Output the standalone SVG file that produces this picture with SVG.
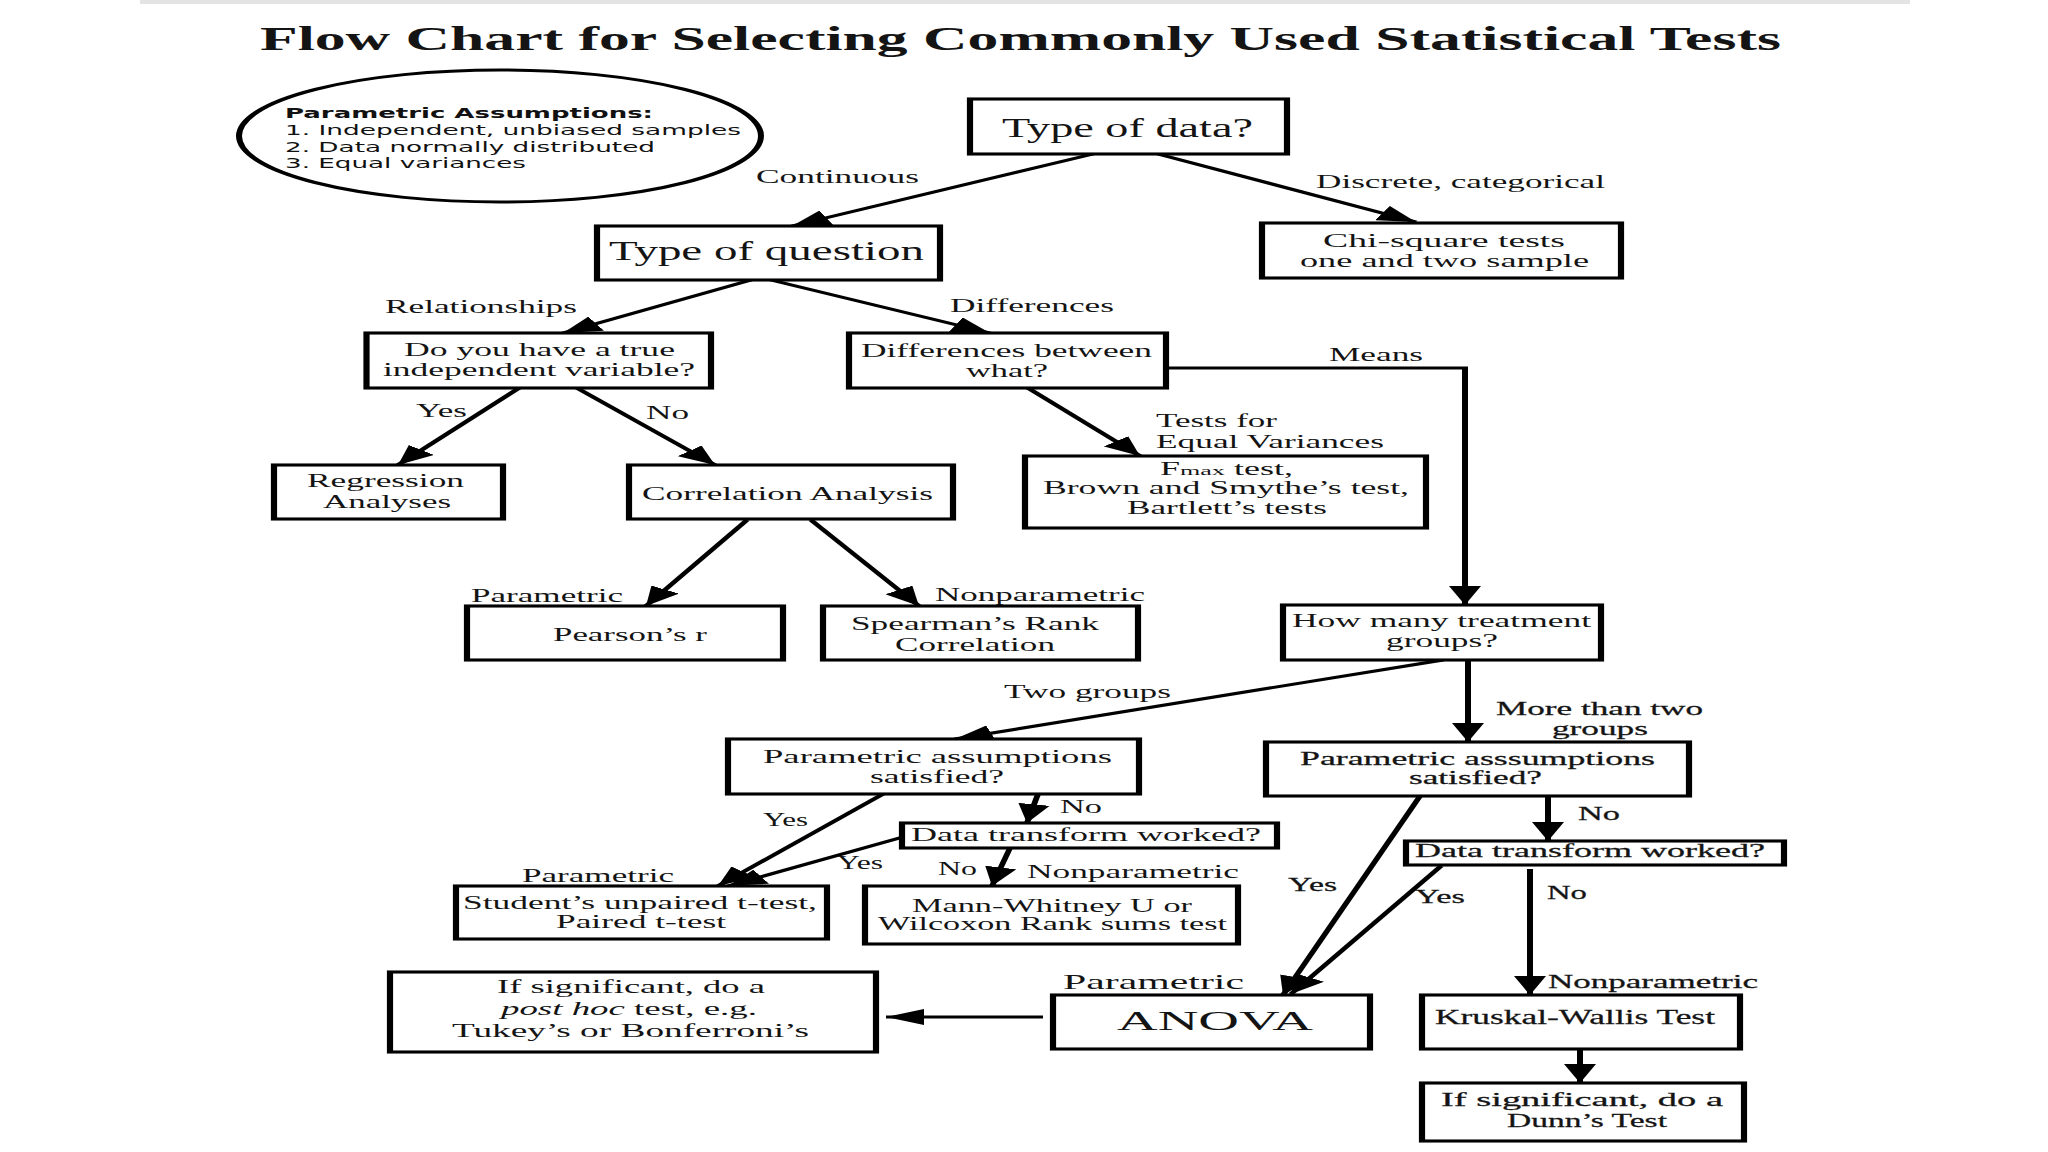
<svg xmlns="http://www.w3.org/2000/svg" width="2048" height="1152" viewBox="0 0 2048 1152">
<style>
.t{font-family:"Liberation Serif","Times New Roman",serif;fill:#141414}
.s{font-family:"DejaVu Sans",Verdana,sans-serif;fill:#111}
.b{font-weight:bold}
.hv{stroke:#141414;stroke-width:0.25}
.f14{font-size:14px}.f18{font-size:18px}.f19{font-size:19px}.f20{font-size:20px}.f21{font-size:21px}.f27{font-size:27px}.f28{font-size:28px}.f33{font-size:33px}
.box{fill:#fff;stroke:#000;stroke-width:3.1}
.ln{fill:none;stroke:#000;stroke-width:3;marker-end:url(#ah)}
</style>
<defs>
<marker id="ah" viewBox="0 0 19 16" refX="19" refY="8" markerWidth="19" markerHeight="16" markerUnits="userSpaceOnUse" orient="auto"><path d="M0,0 L19,8 L0,16 z" fill="#000"/></marker>
</defs>
<rect width="2048" height="1152" fill="#fff"/>
<g transform="scale(2,1)">
<rect x="70" y="0" width="885" height="4" fill="#e4e4e4"/>
<text id="title" class="t b f33" x="130" y="50" textLength="760.5" lengthAdjust="spacingAndGlyphs">Flow Chart for Selecting Commonly Used Statistical Tests</text>

<g id="n-assumptions">
<ellipse cx="250" cy="136" rx="130.5" ry="66" fill="none" stroke="#000" stroke-width="3"/>
<text class="s b f14" x="142.5" y="118" textLength="184" lengthAdjust="spacingAndGlyphs">Parametric Assumptions:</text>
<text class="s f14" x="142.5" y="135" textLength="228" lengthAdjust="spacingAndGlyphs">1. Independent, unbiased samples</text>
<text class="s f14" x="142.5" y="152" textLength="185" lengthAdjust="spacingAndGlyphs">2. Data normally distributed</text>
<text class="s f14" x="142.5" y="168" textLength="120.5" lengthAdjust="spacingAndGlyphs">3. Equal variances</text>
</g>

<g id="connectors">
<line class="ln" x1="546.5" y1="154" x2="396" y2="226"/>
<line class="ln" x1="579" y1="154" x2="708" y2="222"/>
<line class="ln" x1="375.5" y1="280" x2="281.5" y2="333"/>
<line class="ln" x1="385.5" y1="280" x2="495" y2="333"/>
<line class="ln" x1="259.5" y1="388" x2="199" y2="465"/>
<line class="ln" x1="288.5" y1="388" x2="357.5" y2="465"/>
<line class="ln" x1="514" y1="388" x2="570" y2="456"/>
<path class="ln" d="M583,368 H732.5 V605"/>
<line class="ln" x1="373.5" y1="520" x2="323" y2="606"/>
<line class="ln" x1="405.5" y1="520" x2="459.5" y2="606"/>
<line class="ln" x1="721.5" y1="660" x2="477.5" y2="739"/>
<line class="ln" x1="734" y1="660" x2="734" y2="742"/>
<line class="ln" x1="519" y1="794" x2="513.5" y2="823"/>
<line class="ln" x1="441.5" y1="794" x2="359" y2="886"/>
<line class="ln" x1="451.5" y1="837" x2="364" y2="886"/>
<line class="ln" x1="505" y1="848" x2="496" y2="886"/>
<line class="ln" x1="774" y1="796" x2="774" y2="841"/>
<line class="ln" x1="710" y1="796" x2="641.5" y2="995"/>
<line class="ln" x1="720.5" y1="866" x2="645.5" y2="994"/>
<line class="ln" x1="765" y1="869" x2="765" y2="995"/>
<line class="ln" x1="521.5" y1="1017" x2="443" y2="1017"/>
<line class="ln" x1="790" y1="1049" x2="790" y2="1083"/>
</g>

<g id="edge-labels">
<text class="t f18" x="378" y="183" textLength="81.5" lengthAdjust="spacingAndGlyphs">Continuous</text>
<text class="t f18" x="658" y="188" textLength="144.5" lengthAdjust="spacingAndGlyphs">Discrete, categorical</text>
<text class="t f18" x="192.5" y="313" textLength="96" lengthAdjust="spacingAndGlyphs">Relationships</text>
<text class="t f18" x="475" y="312" textLength="82" lengthAdjust="spacingAndGlyphs">Differences</text>
<text class="t f18" x="664.5" y="361" textLength="47" lengthAdjust="spacingAndGlyphs">Means</text>
<text class="t f18" x="208" y="417" textLength="25.5" lengthAdjust="spacingAndGlyphs">Yes</text>
<text class="t f18" x="323" y="419" textLength="21.5" lengthAdjust="spacingAndGlyphs">No</text>
<text class="t f18" x="578" y="427" textLength="60.5" lengthAdjust="spacingAndGlyphs">Tests for</text>
<text class="t f18" x="578" y="448" textLength="114" lengthAdjust="spacingAndGlyphs">Equal Variances</text>
<text class="t f18" x="235.5" y="602" textLength="76" lengthAdjust="spacingAndGlyphs">Parametric</text>
<text class="t f18" x="467.5" y="601" textLength="105" lengthAdjust="spacingAndGlyphs">Nonparametric</text>
<text class="t f18" x="502" y="698" textLength="83.5" lengthAdjust="spacingAndGlyphs">Two groups</text>
<text class="t f18 hv" x="748" y="715" textLength="103.5" lengthAdjust="spacingAndGlyphs">More than two</text>
<text class="t f18 hv" x="776" y="735" textLength="48" lengthAdjust="spacingAndGlyphs">groups</text>
<text class="t f18" x="530" y="813" textLength="21" lengthAdjust="spacingAndGlyphs">No</text>
<text class="t f18" x="381.5" y="826" textLength="22.5" lengthAdjust="spacingAndGlyphs">Yes</text>
<text class="t f18 hv" x="789" y="820" textLength="21" lengthAdjust="spacingAndGlyphs">No</text>
<text class="t f18" x="418.5" y="869" textLength="23" lengthAdjust="spacingAndGlyphs">Yes</text>
<text class="t f18" x="469" y="875" textLength="19.5" lengthAdjust="spacingAndGlyphs">No</text>
<text class="t f18" x="513.5" y="878" textLength="106" lengthAdjust="spacingAndGlyphs">Nonparametric</text>
<text class="t f18" x="261" y="882" textLength="76" lengthAdjust="spacingAndGlyphs">Parametric</text>
<text class="t f18 hv" x="644" y="891" textLength="24.5" lengthAdjust="spacingAndGlyphs">Yes</text>
<text class="t f18 hv" x="707.5" y="903" textLength="25" lengthAdjust="spacingAndGlyphs">Yes</text>
<text class="t f18 hv" x="773.5" y="899" textLength="20" lengthAdjust="spacingAndGlyphs">No</text>
<text class="t f21" x="531.5" y="989" textLength="90.5" lengthAdjust="spacingAndGlyphs">Parametric</text>
<text class="t f18 hv" x="774" y="988" textLength="105" lengthAdjust="spacingAndGlyphs">Nonparametric</text>
</g>

<g id="n-data"><rect class="box" x="485" y="99" width="158.5" height="55"/>
<text class="t f27" x="501" y="137" textLength="125.5" lengthAdjust="spacingAndGlyphs">Type of data?</text></g>

<g id="n-question"><rect class="box" x="298.5" y="226" width="171.5" height="54"/>
<text class="t f27" x="304.5" y="260" textLength="157.5" lengthAdjust="spacingAndGlyphs">Type of question</text></g>

<g id="n-chi"><rect class="box" x="631" y="223" width="179.5" height="55"/>
<text class="t f19" x="661.5" y="247" textLength="121" lengthAdjust="spacingAndGlyphs">Chi-square tests</text>
<text class="t f19" x="650" y="267" textLength="144.5" lengthAdjust="spacingAndGlyphs">one and two sample</text></g>

<g id="n-doyou"><rect class="box" x="183.25" y="333" width="172.25" height="55"/>
<text class="t f18" x="202" y="356" textLength="135.5" lengthAdjust="spacingAndGlyphs">Do you have a true</text>
<text class="t f18" x="191.5" y="376" textLength="156" lengthAdjust="spacingAndGlyphs">independent variable?</text></g>

<g id="n-diffs"><rect class="box" x="424.5" y="333" width="158.5" height="55"/>
<text class="t f18" x="430.5" y="357" textLength="145.5" lengthAdjust="spacingAndGlyphs">Differences between</text>
<text class="t f18" x="483" y="377" textLength="41" lengthAdjust="spacingAndGlyphs">what?</text></g>

<g id="n-regression"><rect class="box" x="137" y="465" width="114.5" height="54"/>
<text class="t f18" x="153.5" y="487" textLength="78.5" lengthAdjust="spacingAndGlyphs">Regression</text>
<text class="t f18" x="161.5" y="508" textLength="64" lengthAdjust="spacingAndGlyphs">Analyses</text></g>

<g id="n-correlation"><rect class="box" x="314.5" y="465" width="162" height="54"/>
<text class="t f18" x="321" y="500" textLength="145.5" lengthAdjust="spacingAndGlyphs">Correlation Analysis</text></g>

<g id="n-fmax"><rect class="box" x="512.5" y="456" width="200.5" height="72"/>
<text class="t f18" x="580" y="475" textLength="66.5" lengthAdjust="spacingAndGlyphs">F<tspan style="font-size:13px">max</tspan> test,</text>
<text class="t f18" x="521.5" y="494" textLength="183" lengthAdjust="spacingAndGlyphs">Brown and Smythe’s test,</text>
<text class="t f18" x="563.5" y="514" textLength="100" lengthAdjust="spacingAndGlyphs">Bartlett’s tests</text></g>

<g id="n-pearson"><rect class="box" x="233.5" y="606" width="158" height="54"/>
<text class="t f18" x="276.5" y="641" textLength="77" lengthAdjust="spacingAndGlyphs">Pearson’s r</text></g>

<g id="n-spearman"><rect class="box" x="411.5" y="606" width="157.5" height="54"/>
<text class="t f18" x="425.5" y="630" textLength="124" lengthAdjust="spacingAndGlyphs">Spearman’s Rank</text>
<text class="t f18" x="447.5" y="651" textLength="80" lengthAdjust="spacingAndGlyphs">Correlation</text></g>

<g id="n-howmany"><rect class="box" x="641.5" y="605" width="159" height="55"/>
<text class="t f18" x="646" y="627" textLength="149.5" lengthAdjust="spacingAndGlyphs">How many treatment</text>
<text class="t f18" x="693" y="647" textLength="56" lengthAdjust="spacingAndGlyphs">groups?</text></g>

<g id="n-param-two"><rect class="box" x="364" y="739" width="205.5" height="55"/>
<text class="t f18" x="381.5" y="763" textLength="174.5" lengthAdjust="spacingAndGlyphs">Parametric assumptions</text>
<text class="t f18" x="435" y="783" textLength="67" lengthAdjust="spacingAndGlyphs">satisfied?</text></g>

<g id="n-param-more"><rect class="box" x="633" y="742" width="211.5" height="54"/>
<text class="t f18 hv" x="650" y="765" textLength="177.5" lengthAdjust="spacingAndGlyphs">Parametric asssumptions</text>
<text class="t f18 hv" x="704.5" y="784" textLength="66.5" lengthAdjust="spacingAndGlyphs">satisfied?</text></g>

<g id="n-transform-two"><rect class="box" x="451" y="823" width="187.5" height="25"/>
<text class="t f18" x="455.5" y="841" textLength="175" lengthAdjust="spacingAndGlyphs">Data transform worked?</text></g>

<g id="n-transform-more"><rect class="box" x="703" y="841" width="189" height="24"/>
<text class="t f18 hv" x="707.5" y="857" textLength="175" lengthAdjust="spacingAndGlyphs">Data transform worked?</text></g>

<g id="n-student"><rect class="box" x="228" y="886" width="185.5" height="53"/>
<text class="t f18" x="231.5" y="909" textLength="177" lengthAdjust="spacingAndGlyphs">Student’s unpaired t-test,</text>
<text class="t f18" x="278" y="928" textLength="85" lengthAdjust="spacingAndGlyphs">Paired t-test</text></g>

<g id="n-mann"><rect class="box" x="432.5" y="886" width="186.5" height="58"/>
<text class="t f18" x="456" y="912" textLength="140" lengthAdjust="spacingAndGlyphs">Mann-Whitney U or</text>
<text class="t f18" x="439" y="930" textLength="174.5" lengthAdjust="spacingAndGlyphs">Wilcoxon Rank sums test</text></g>

<g id="n-posthoc"><rect class="box" x="195" y="972" width="243" height="80"/>
<text class="t f19" x="248.5" y="993" textLength="134" lengthAdjust="spacingAndGlyphs">If significant, do a</text>
<text class="t f19" x="250.5" y="1015" textLength="128" lengthAdjust="spacingAndGlyphs"><tspan font-style="italic">post hoc</tspan> test, e.g.</text>
<text class="t f19" x="226" y="1037" textLength="178.5" lengthAdjust="spacingAndGlyphs">Tukey’s or Bonferroni’s</text></g>

<g id="n-anova"><rect class="box" x="526.5" y="995" width="158.5" height="54"/>
<text class="t f28" x="558.5" y="1030" textLength="98" lengthAdjust="spacingAndGlyphs">ANOVA</text></g>

<g id="n-kruskal"><rect class="box" x="711" y="995" width="159" height="54"/>
<text class="t f20 hv" x="717.5" y="1024" textLength="140" lengthAdjust="spacingAndGlyphs">Kruskal-Wallis Test</text></g>

<g id="n-dunn"><rect class="box" x="711" y="1083" width="161" height="58"/>
<text class="t f19 hv" x="720.5" y="1106" textLength="141" lengthAdjust="spacingAndGlyphs">If significant, do a</text>
<text class="t f19 hv" x="753.5" y="1127" textLength="80" lengthAdjust="spacingAndGlyphs">Dunn’s Test</text></g>
</g>
</svg>
